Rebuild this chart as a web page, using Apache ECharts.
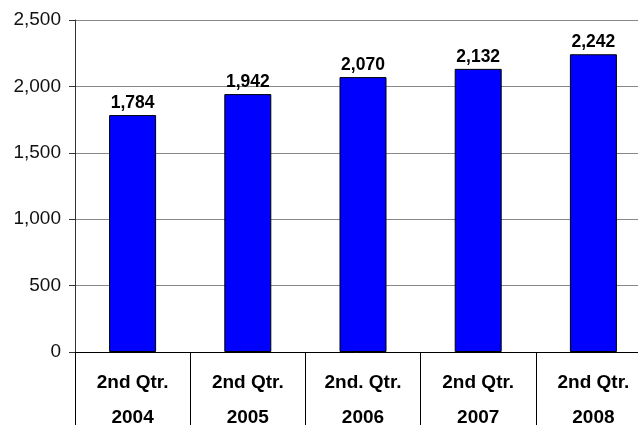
<!doctype html>
<html>
<head>
    <meta charset="utf-8">
    <script src="https://cdn.jsdelivr.net/npm/echarts@6/dist/echarts.min.js"></script>
</head>
<body style="margin: 0; background: #fff">
    <div id="container" style="width: 638px; height: 425px"></div>
    <script type="text/javascript">
        var categories = ['2nd Qtr.\n2004', '2nd Qtr.\n2005', '2nd. Qtr.\n2006', '2nd Qtr.\n2007', '2nd Qtr.\n2008'];
        var values = [1784, 1942, 2070, 2132, 2242];
        var yTicks = { min: 0, max: 2500, interval: 500 };

        function fmt(v) {
            return String(v).replace(/\B(?=(\d{3})+(?!\d))/g, ',');
        }

        var myChart = echarts.init(document.getElementById('container'));
        var option = {
            animation: false,
            grid: { left: 75, top: 20, right: -13, bottom: 73, containLabel: false, outerBoundsMode: 'none' },
            xAxis: {
                type: 'category',
                data: categories,
                boundaryGap: true,
                axisLine: { lineStyle: { color: '#000', width: 1 } },
                axisTick: { show: true, length: 73, lineStyle: { color: '#000' } },
                axisLabel: {
                    color: '#000',
                    fontFamily: 'Liberation Sans, Arial, sans-serif',
                    fontWeight: 'bold',
                    fontSize: 19,
                    lineHeight: 35,
                    margin: 13,
                    interval: 0
                }
            },
            yAxis: {
                type: 'value',
                min: yTicks.min,
                max: yTicks.max,
                interval: yTicks.interval,
                axisLine: { show: true, lineStyle: { color: '#333' } },
                axisTick: { show: true, length: 6, lineStyle: { color: '#333' } },
                splitLine: { lineStyle: { color: '#888', width: 1 } },
                axisLabel: {
                    color: '#111',
                    fontFamily: 'Liberation Sans, Arial, sans-serif',
                    fontSize: 19,
                    margin: 14,
                    formatter: fmt
                }
            },
            series: [{
                type: 'bar',
                data: values,
                barWidth: 47,
                itemStyle: { color: '#0000ff', borderColor: '#000', borderWidth: 1 },
                label: {
                    show: true,
                    position: 'top',
                    distance: 3,
                    color: '#000',
                    fontFamily: 'Liberation Sans, Arial, sans-serif',
                    fontWeight: 'bold',
                    fontSize: 17.5,
                    formatter: function (p) { return fmt(p.value); }
                }
            }]
        };
        myChart.setOption(option);
    </script>
</body>
</html>
